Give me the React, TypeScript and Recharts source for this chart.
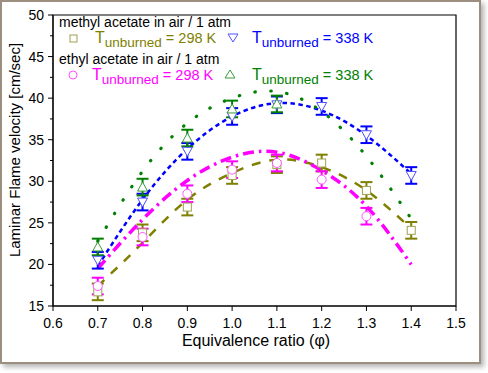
import React from 'react';
import {
  ComposedChart, Line, Scatter, ErrorBar, XAxis, YAxis, ReferenceArea,
} from 'recharts';

// Measured equivalence ratios
const phi = [0.7, 0.8, 0.9, 1.0, 1.1, 1.2, 1.3, 1.4];

// Measured laminar flame velocities [cm/sec]
const methyl298 = [16.7, 23.8, 26.9, 30.7, 32.0, 32.2, 28.9, 24.1];
const methyl338 = [20.5, 27.5, 33.6, 37.8, 39.2, 39.0, 35.6, 30.7];
const ethyl298 = [17.4, 23.3, 28.5, 31.4, 32.2, 30.2, 25.8];
const ethyl338 = [22.1, 29.3, 35.2, 38.7, 39.3];

// Error bar half-widths
const methyl298Err = [1.0, 1.0, 1.0, 1.0, 1.0, 1.0, 1.0, 1.0];
const methyl338Err = [1.0, 1.0, 1.0, 1.0, 1.0, 1.0, 1.0, 1.0];
const ethyl298Err = [1.0, 1.0, 1.0, 1.0, 1.0, 1.0, 1.0];
const ethyl338Err = [1.0, 1.0, 1.0, 1.0, 1.0];

// Fitted curves
const fitPhi = [0.7, 0.8, 0.9, 1.0, 1.1, 1.2, 1.3, 1.4];
const fitMethyl298 = [17.4, 22.6, 27.8, 31.0, 32.6, 31.7, 28.9, 24.3];
const fitMethyl338 = [19.8, 27.8, 33.9, 37.8, 39.4, 38.5, 35.5, 30.9];
const fitEthyl298 = [19.5, 25.4, 30.1, 32.9, 33.5, 31.3, 27.0, 20.0];
const fitEthyl338 = [22.8, 31.2, 37.0, 40.0, 40.8, 38.4, 33.0, 25.5];

const xTicks = [0.6, 0.7, 0.8, 0.9, 1.0, 1.1, 1.2, 1.3, 1.4, 1.5];
const yTicks = [15, 17.5, 20, 22.5, 25, 27.5, 30, 32.5, 35, 37.5, 40, 42.5, 45, 47.5, 50];

const FONT = 'Liberation Sans, Arial, sans-serif';

const fitData = fitPhi.map((x, i) => ({
  x,
  m298: fitMethyl298[i],
  m338: fitMethyl338[i],
  e298: fitEthyl298[i],
  e338: fitEthyl338[i],
}));

const pts = (vals: number[], errs: number[]) =>
  vals.map((y, i) => ({ x: phi[i], y, err: errs[i] }));

const XTick = (props: any) => {
  const { x, y, payload } = props;
  return (
    <g>
      <line x1={x} x2={x} y1={y} y2={y + 5} stroke="#000" strokeWidth={1} />
      <text x={x} y={y + 22} textAnchor="middle" fontSize={14} fontFamily={FONT} fill="#000">
        {Number(payload.value).toFixed(1)}
      </text>
    </g>
  );
};

const YTick = (props: any) => {
  const { x, y, payload } = props;
  const v = Number(payload.value);
  const major = Math.abs(v % 5) < 1e-6;
  return (
    <g>
      <line x1={x - (major ? 5 : 3)} x2={x} y1={y} y2={y} stroke="#000" strokeWidth={1} />
      {major && (
        <text x={x - 9} y={y + 5} textAnchor="end" fontSize={14} fontFamily={FONT} fill="#000">
          {v}
        </text>
      )}
    </g>
  );
};

const Square = (p: any) => (
  <rect x={p.cx - 4} y={p.cy - 4} width={8} height={8} fill="#fff" stroke="#a0a050" strokeWidth={1} />
);
const Circ = (p: any) => (
  <circle cx={p.cx} cy={p.cy} r={4.5} fill="#fff" stroke="#ff55ff" strokeWidth={1} />
);
const TriDown = (p: any) => (
  <path d={`M${p.cx - 5},${p.cy - 4} L${p.cx + 5},${p.cy - 4} L${p.cx},${p.cy + 5} Z`} fill="#fff" stroke="#5050ff" strokeWidth={1} />
);
const TriUp = (p: any) => (
  <path d={`M${p.cx - 5},${p.cy + 4} L${p.cx + 5},${p.cy + 4} L${p.cx},${p.cy - 5} Z`} fill="#fff" stroke="#3a9a3a" strokeWidth={1} />
);

const Tsub = ({ x, y, color, rest }: { x: number; y: number; color: string; rest: string }) => (
  <text x={x} y={y} fill={color} fontFamily={FONT}>
    <tspan fontSize={16}>T</tspan>
    <tspan fontSize={13.5} dy={4}>unburned</tspan>
    <tspan fontSize={14.5} dy={-4}>{rest}</tspan>
  </text>
);

export default function App() {
  return (
    <div style={{ position: 'absolute', left: 0, top: 0, width: 488, height: 373 }}>
      <div
        style={{
          position: 'absolute', left: 0, top: 0, width: 481, height: 364,
          boxSizing: 'border-box', border: '2px solid #9c8f80', background: '#fff',
          boxShadow: '3px 3px 5px rgba(0,0,0,0.3)',
        }}
      />
      <div style={{ position: 'absolute', left: 0, top: 0 }}>
        <ComposedChart
          width={488}
          height={373}
          data={fitData}
          margin={{ top: 15, right: 32, left: 0, bottom: 0 }}
        >
          <XAxis
            dataKey="x"
            type="number"
            domain={[0.6, 1.5]}
            ticks={xTicks}
            interval={0}
            allowDataOverflow
            height={67}
            tickSize={0}
            tickMargin={0}
            tickLine={false}
            tick={<XTick />}
            axisLine={{ stroke: '#000' }}
          />
          <YAxis
            type="number"
            domain={[15, 50]}
            ticks={yTicks}
            interval={0}
            allowDataOverflow
            width={53}
            tickSize={0}
            tickMargin={0}
            tickLine={false}
            tick={<YTick />}
            axisLine={{ stroke: '#000' }}
          />
          <ReferenceArea x1={0.6} x2={1.5} y1={15} y2={50} fill="none" stroke="#000" strokeWidth={1.2} />
          <Line type="natural" dataKey="m298" stroke="#808000" strokeWidth={2.5} strokeDasharray="9 9" dot={false} isAnimationActive={false} />
          <Line type="natural" dataKey="m338" stroke="#0000ff" strokeWidth={2.5} strokeDasharray="4.5 3.5" dot={false} isAnimationActive={false} />
          <Line type="natural" dataKey="e298" stroke="#ff00ff" strokeWidth={3.5} strokeDasharray="11 5 2.5 5" dot={false} isAnimationActive={false} />
          <Line type="natural" dataKey="e338" stroke="#008000" strokeWidth={3.2} strokeDasharray="0.5 15.5" strokeLinecap="round" dot={false} isAnimationActive={false} />
          <Scatter data={pts(methyl298, methyl298Err)} dataKey="y" shape={<Square />} isAnimationActive={false}>
            <ErrorBar dataKey="err" direction="y" width={6} stroke="#7f7f00" strokeWidth={2} />
          </Scatter>
          <Scatter data={pts(ethyl298, ethyl298Err)} dataKey="y" shape={<Circ />} isAnimationActive={false}>
            <ErrorBar dataKey="err" direction="y" width={6} stroke="#ff00ff" strokeWidth={2} />
          </Scatter>
          <Scatter data={pts(methyl338, methyl338Err)} dataKey="y" shape={<TriDown />} isAnimationActive={false}>
            <ErrorBar dataKey="err" direction="y" width={6} stroke="#0000ff" strokeWidth={2} />
          </Scatter>
          <Scatter data={pts(ethyl338, ethyl338Err)} dataKey="y" shape={<TriUp />} isAnimationActive={false}>
            <ErrorBar dataKey="err" direction="y" width={6} stroke="#007f00" strokeWidth={2} />
          </Scatter>
        </ComposedChart>
      </div>
      <svg width={488} height={373} style={{ position: 'absolute', left: 0, top: 0, pointerEvents: 'none' }}>
        <text x={59} y={27} fontSize={14} fontFamily={FONT} fill="#000">methyl acetate in air / 1 atm</text>
        <rect x={70} y={35} width={7} height={7} fill="#fff" stroke="#a0a050" strokeWidth={1} />
        <Tsub x={95} y={43} color="#808000" rest=" = 298 K" />
        <path d="M228,34 L238,34 L233,42 Z" fill="#fff" stroke="#5050ff" strokeWidth={1} />
        <Tsub x={252} y={43} color="#0000ff" rest=" = 338 K" />
        <text x={59} y={64} fontSize={14} fontFamily={FONT} fill="#000">ethyl acetate  in air / 1 atm</text>
        <circle cx={73} cy={75} r={4} fill="#fff" stroke="#ff55ff" strokeWidth={1} />
        <Tsub x={92} y={80} color="#ff00ff" rest=" = 298 K" />
        <path d="M225,78 L235,78 L230,70 Z" fill="#fff" stroke="#3a9a3a" strokeWidth={1} />
        <Tsub x={252} y={80} color="#008000" rest=" = 338 K" />
        <text x={256} y={346} textAnchor="middle" fontSize={16} fontFamily={FONT} fill="#000">Equivalence ratio (φ)</text>
        <text
          x={0}
          y={0}
          transform="translate(20,150) rotate(-90)"
          textAnchor="middle"
          fontSize={15}
          fontFamily={FONT}
          fill="#000"
        >
          Laminar Flame velocity [cm/sec]
        </text>
      </svg>
    </div>
  );
}
